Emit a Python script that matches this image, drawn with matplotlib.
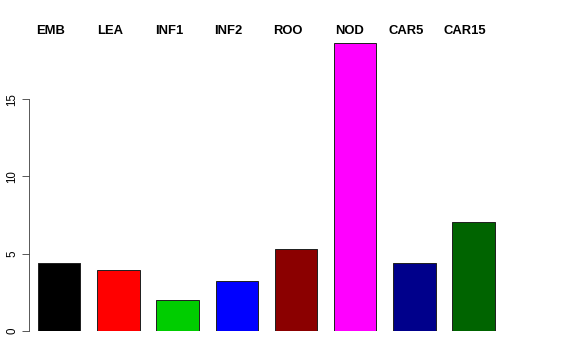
import matplotlib
matplotlib.use("Agg")
import matplotlib.pyplot as plt

categories = ["EMB", "LEA", "INF1", "INF2", "ROO", "NOD", "CAR5", "CAR15"]
values = [4.38, 3.92, 1.98, 3.25, 5.28, 18.6, 4.40, 7.05]
colors = ["#000000", "#FF0000", "#00CD00", "#0000FF", "#8B0000", "#FF00FF", "#00008B", "#006400"]
yticks = [0, 5, 10, 15]

plt.rcParams['font.family'] = ['Liberation Sans', 'DejaVu Sans']

W, H = 576, 360
fig = plt.figure(figsize=(W / 72, H / 72), dpi=72)
left_px, right_px, top_px, bottom_px = 29, 513, 32, 331
ax = fig.add_axes([left_px / W, (H - bottom_px) / H, (right_px - left_px) / W, (bottom_px - top_px) / H])

width, space = 1.0, 0.4
lefts = [space + i * (width + space) for i in range(len(values))]
ax.bar(lefts, values, width=width, align='edge', color=colors, edgecolor='#222222', linewidth=1.0)

ax.set_xlim(0.187, 11.632)
ax.set_ylim(0, max(values) * 1.04)

for s in ['top', 'right', 'bottom']:
    ax.spines[s].set_visible(False)
ax.spines['left'].set_bounds(0, 15)
ax.spines['left'].set_color('#333333')
ax.set_xticks([])
ax.set_yticks(yticks)
ax.set_yticklabels([str(t) for t in yticks], rotation=90, va='center', fontsize=11.5)
ax.tick_params(axis='y', length=7, pad=4, color='#333333')

# category labels across the top
label_px = [51, 110, 169, 228, 288, 349, 406, 465]
for name, px in zip(categories, label_px):
    fig.text(px / W, (H - 31.5) / H, name, ha='center', va='center', fontsize=13, fontweight='bold')

fig.savefig("out.png", dpi=72)
